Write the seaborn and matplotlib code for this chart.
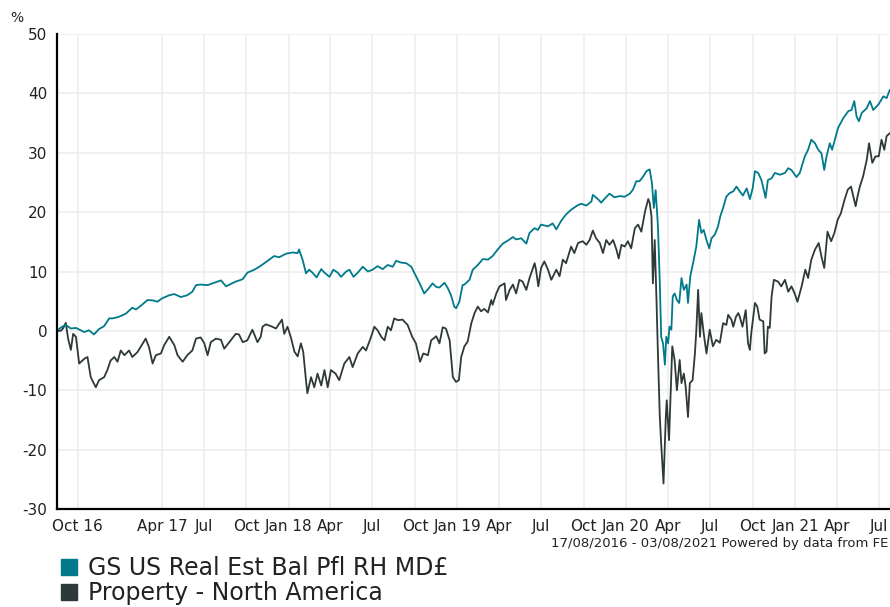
import pandas as pd
import matplotlib
matplotlib.use('Agg')
import matplotlib.pyplot as plt
from matplotlib.lines import Line2D
import seaborn as sns

start_date = '2016-08-17'
end_date = '2021-08-03'

fund_name = 'GS US Real Est Bal Pfl RH MD£'
sector_name = 'Property - North America'

# days since 17/08/2016 and cumulative % return
fund_days = [0, 9, 19, 30, 41, 59, 69, 80, 91, 102, 113, 120, 131, 138, 149, 163, 171, 181, 196, 210,
             217, 228, 243, 254, 268, 282, 293, 301, 311, 326, 340, 355, 366, 376, 387, 402, 412, 427, 438, 449,
             470, 481, 496, 510, 521, 524, 532, 539, 546, 553, 562, 572, 579, 590, 598, 608, 615, 626, 633, 642,
             651, 662, 673, 683, 694, 705, 716, 727, 734, 745, 756, 767, 774, 785, 795, 803, 813, 821, 828, 839,
             846, 853, 860, 864, 871, 878, 882, 893, 900, 911, 922, 933, 943, 954, 965, 976, 987, 994, 1005, 1016,
             1023, 1034, 1041, 1048, 1063, 1073, 1081, 1092, 1102, 1113, 1128, 1135, 1146, 1157, 1160, 1171, 1178, 1186, 1196, 1207,
             1218, 1229, 1240, 1247, 1254, 1261, 1269, 1276, 1283, 1288, 1292, 1296, 1301, 1305, 1308, 1312, 1316, 1319, 1323, 1326,
             1330, 1333, 1337, 1342, 1347, 1352, 1357, 1363, 1366, 1371, 1377, 1384, 1390, 1395, 1400, 1406, 1412, 1417, 1424, 1431,
             1436, 1442, 1449, 1456, 1464, 1471, 1478, 1485, 1493, 1500, 1506, 1511, 1518, 1525, 1534, 1539, 1547, 1554, 1565, 1576,
             1583, 1590, 1601, 1608, 1619, 1626, 1633, 1641, 1648, 1655, 1661, 1666, 1673, 1678, 1684, 1691, 1702, 1713, 1720, 1726,
             1731, 1736, 1742, 1753, 1760, 1767, 1778, 1789, 1796, 1803, 1812]
fund_values = [0.0, 0.6, 1.0, 0.4, 0.5, -0.2, 0.1, -0.6, 0.3, 0.8, 2.1, 2.1, 2.3, 2.5, 2.9, 3.9, 3.6, 4.2, 5.2, 5.1,
               4.9, 5.5, 6.0, 6.2, 5.7, 6.0, 6.6, 7.7, 7.8, 7.7, 8.1, 8.5, 7.5, 7.9, 8.3, 8.7, 9.8, 10.3, 10.8, 11.4,
               12.6, 12.4, 13.0, 13.2, 13.1, 13.7, 11.9, 9.7, 10.3, 9.8, 9.0, 10.4, 9.8, 9.1, 10.3, 9.8, 9.1, 10.0, 10.3, 9.1,
               9.8, 10.8, 10.0, 10.3, 10.9, 10.4, 11.1, 10.8, 11.8, 11.5, 11.4, 10.8, 9.7, 8.0, 6.3, 7.0, 8.0, 7.4, 7.3, 8.1,
               7.2, 6.0, 4.1, 3.8, 4.9, 7.7, 7.8, 8.6, 10.3, 11.1, 12.1, 12.0, 12.6, 13.7, 14.7, 15.2, 15.8, 15.4, 15.6, 14.7,
               16.5, 17.3, 17.0, 17.9, 17.6, 18.1, 17.1, 18.6, 19.6, 20.4, 21.2, 21.4, 21.1, 21.8, 22.9, 22.2, 21.6, 22.3, 23.1, 22.5,
               22.7, 22.6, 23.1, 23.8, 25.2, 25.2, 26.0, 26.9, 27.2, 24.9, 20.7, 23.7, 17.6, 8.0, -1.0, -2.1, -5.7, -1.0, -2.1, 0.7,
               0.2, 5.8, 6.3, 5.2, 4.7, 8.9, 6.9, 7.8, 4.7, 9.2, 11.4, 14.2, 18.7, 16.5, 17.0, 15.3, 13.9, 15.6, 16.2, 17.6,
               19.3, 20.7, 22.6, 23.2, 23.5, 24.3, 23.5, 22.8, 24.0, 22.2, 24.0, 26.9, 26.6, 25.4, 22.4, 25.4, 25.7, 26.6, 26.3, 26.6,
               27.4, 27.1, 25.9, 26.6, 29.4, 30.5, 32.2, 31.6, 30.5, 29.9, 27.1, 29.4, 31.6, 30.5, 32.2, 34.2, 35.8, 37.0, 37.2, 38.7,
               36.1, 35.3, 36.7, 37.5, 38.7, 37.2, 38.1, 39.5, 39.2, 40.6, 40.8]

sector_days = [0, 8, 13, 19, 24, 30, 35, 41, 48, 59, 66, 73, 84, 91, 102, 109, 116, 124, 131, 138,
               146, 156, 163, 174, 181, 192, 199, 207, 214, 225, 232, 243, 254, 261, 272, 282, 293, 301, 311, 319,
               326, 333, 344, 355, 362, 373, 387, 394, 402, 412, 423, 434, 441, 445, 452, 463, 474, 481, 487, 492,
               499, 506, 514, 521, 528, 533, 539, 542, 550, 557, 564, 572, 579, 586, 593, 603, 611, 622, 633, 640,
               651, 662, 669, 680, 687, 694, 702, 709, 716, 723, 730, 738, 748, 759, 769, 777, 786, 793, 803, 810,
               821, 828, 835, 842, 850, 857, 864, 870, 875, 882, 889, 897, 904, 911, 918, 925, 933, 940, 943, 951,
               958, 969, 972, 980, 987, 994, 1001, 1008, 1016, 1023, 1034, 1037, 1042, 1048, 1055, 1063, 1070, 1081, 1088, 1095,
               1102, 1113, 1120, 1128, 1138, 1146, 1153, 1160, 1167, 1175, 1182, 1189, 1196, 1204, 1211, 1216, 1222, 1229, 1236, 1243,
               1251, 1258, 1265, 1273, 1280, 1283, 1287, 1290, 1294, 1298, 1301, 1305, 1308, 1313, 1318, 1320, 1325, 1328, 1332, 1337,
               1342, 1348, 1352, 1357, 1361, 1366, 1370, 1376, 1381, 1384, 1388, 1392, 1395, 1400, 1406, 1413, 1420, 1427, 1435, 1442,
               1449, 1453, 1460, 1464, 1470, 1475, 1478, 1484, 1491, 1496, 1500, 1503, 1511, 1516, 1521, 1529, 1532, 1536, 1539, 1543,
               1547, 1552, 1561, 1568, 1576, 1583, 1590, 1597, 1603, 1612, 1620, 1626, 1633, 1641, 1649, 1655, 1661, 1668, 1676, 1683,
               1690, 1697, 1705, 1712, 1719, 1724, 1729, 1733, 1738, 1745, 1753, 1758, 1765, 1772, 1779, 1785, 1791, 1796, 1803, 1812]
sector_values = [0.0, 0.0, 0.4, 1.35, -1.3, -3.2, -0.5, -1.0, -5.5, -4.7, -4.4, -7.8, -9.5, -8.3, -7.8, -6.6, -5.0, -4.4, -5.2, -3.3,
                 -4.1, -3.3, -4.4, -3.6, -2.7, -1.3, -2.7, -5.5, -4.1, -3.8, -2.4, -1.0, -2.4, -4.1, -5.2, -4.1, -3.3, -1.3, -1.1, -2.1,
                 -4.1, -1.9, -1.3, -1.5, -3.0, -1.9, -0.5, -0.6, -1.9, -1.6, 0.2, -1.9, -1.0, 0.7, 1.1, 0.8, 0.4, 1.2, 1.9, -0.5,
                 0.7, -1.0, -3.5, -4.3, -2.1, -3.5, -8.3, -10.5, -7.8, -9.5, -7.2, -9.2, -6.6, -9.5, -6.6, -7.2, -8.3, -5.5, -4.4, -6.1,
                 -3.8, -2.7, -3.3, -1.0, 0.7, 0.1, -1.0, -1.6, 0.7, 0.1, 2.1, 1.8, 1.9, 1.0, -1.0, -2.1, -5.2, -3.8, -4.1, -1.6,
                 -0.9, -2.1, 0.6, 0.4, -1.6, -7.8, -8.6, -8.3, -4.4, -2.6, -1.8, 1.3, 3.0, 4.1, 3.3, 3.7, 3.1, 5.2, 4.4, 6.3,
                 7.5, 8.0, 5.2, 6.9, 7.8, 6.3, 8.6, 8.3, 6.9, 8.9, 11.4, 10.3, 7.5, 10.6, 11.7, 10.3, 8.6, 10.3, 9.2, 12.0,
                 11.4, 14.2, 13.1, 14.8, 15.1, 14.5, 15.3, 16.9, 15.6, 14.8, 13.1, 15.3, 14.5, 15.3, 13.7, 12.2, 14.5, 14.2, 15.1, 13.9,
                 17.3, 17.9, 16.7, 20.1, 22.2, 21.6, 19.3, 8.0, 15.3, 4.7, -4.0, -14.5, -19.0, -25.7, -14.5, -11.7, -18.4, -11.7, -2.6, -4.9,
                 -10.0, -4.9, -8.8, -7.2, -9.4, -14.5, -8.8, -8.3, -3.8, 0.0, 6.9, -1.0, 3.0, -0.4, -3.8, 0.2, -2.6, -1.5, -2.0, 1.3,
                 1.0, 2.7, 1.9, 0.7, 2.4, 3.0, 2.4, 0.7, 3.5, -2.1, -3.2, -0.4, 4.7, 4.1, 1.9, 1.6, -3.8, -3.5, 0.7, 0.5,
                 5.8, 8.6, 8.3, 7.5, 8.6, 6.6, 7.5, 6.3, 4.9, 7.5, 10.3, 8.9, 12.0, 13.7, 14.8, 12.5, 10.6, 16.7, 15.1, 16.5,
                 18.7, 19.8, 22.1, 23.8, 24.3, 22.6, 21.0, 22.6, 24.3, 26.0, 28.8, 31.6, 28.3, 29.4, 29.4, 32.2, 30.5, 32.8, 33.3, 33.5]

tick_dates = ['2016-10-01', '2017-04-01', '2017-07-01', '2017-10-01', '2018-01-01', '2018-04-01', '2018-07-01',
              '2018-10-01', '2019-01-01', '2019-04-01', '2019-07-01', '2019-10-01', '2020-01-01', '2020-04-01',
              '2020-07-01', '2020-10-01', '2021-01-01', '2021-04-01', '2021-07-01']
tick_labels = ['Oct 16', 'Apr 17', 'Jul', 'Oct', 'Jan 18', 'Apr', 'Jul', 'Oct', 'Jan 19', 'Apr', 'Jul', 'Oct',
               'Jan 20', 'Apr', 'Jul', 'Oct', 'Jan 21', 'Apr', 'Jul']
y_ticks = [-30, -20, -10, 0, 10, 20, 30, 40, 50]

colors = {fund_name: '#007a8a', sector_name: '#2e3a37'}

t0 = pd.Timestamp(start_date)
df = pd.concat([
    pd.DataFrame({'date': t0 + pd.to_timedelta(fund_days, unit='D'), 'value': fund_values, 'series': fund_name}),
    pd.DataFrame({'date': t0 + pd.to_timedelta(sector_days, unit='D'), 'value': sector_values, 'series': sector_name}),
])

sns.set_style('white')
plt.rcParams['font.family'] = ['DejaVu Sans']

fig = plt.figure(figsize=(8.9, 6.07), dpi=100)
ax = fig.add_axes([57 / 890, 98 / 607, 837 / 890, 475 / 607])

sns.lineplot(data=df, x='date', y='value', hue='series', palette=colors,
             hue_order=[sector_name, fund_name], linewidth=1.3, ax=ax, legend=False)

ax.set_xlim(pd.Timestamp(start_date), pd.Timestamp(end_date))
ax.set_ylim(-30, 50)
ax.set_yticks(y_ticks)
ax.set_yticklabels([str(v) for v in y_ticks])
ax.set_xticks(pd.to_datetime(tick_dates))
ax.set_xticklabels(tick_labels)
ax.set_xlabel('')
ax.set_ylabel('')

ax.grid(True, color='#eeeeee', linewidth=1.2)
ax.set_axisbelow(True)
for side in ['top', 'right']:
    ax.spines[side].set_visible(False)
for side in ['left', 'bottom']:
    ax.spines[side].set_color('black')
    ax.spines[side].set_linewidth(1.6)
ax.tick_params(axis='both', which='major', direction='out', length=4, width=1.2,
               color='black', labelsize=11, labelcolor='#222222', pad=3)

fig.text(10 / 890, 1 - 18 / 607, '%', fontsize=10, color='#222222', va='center', ha='left')
fig.text(888 / 890, 1 - 543 / 607, '17/08/2016 - 03/08/2021 Powered by data from FE',
         fontsize=9.5, color='#222222', ha='right', va='center')

# legend sits below the axes; kept just inside the bottom edge
handles = [Line2D([], [], marker='s', linestyle='', markersize=12, color=colors[fund_name]),
           Line2D([], [], marker='s', linestyle='', markersize=12, color=colors[sector_name])]
fig.legend(handles, [fund_name, sector_name], loc='upper left', bbox_to_anchor=(58 / 890, 1 - 556 / 607),
           frameon=False, fontsize=17, handlelength=0.9, handletextpad=0.35, labelspacing=0.05,
           borderaxespad=0, borderpad=0, labelcolor='#222222')

fig.savefig('out.png', dpi=100)
